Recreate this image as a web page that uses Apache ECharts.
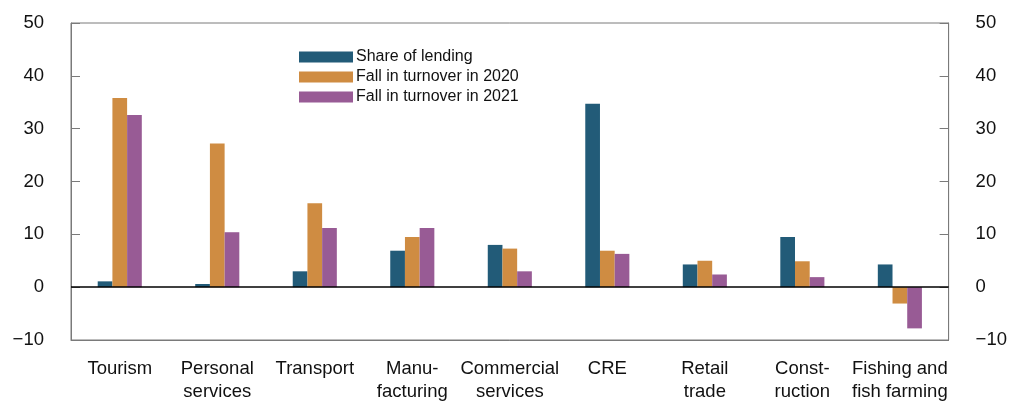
<!DOCTYPE html>
<html><head><meta charset="utf-8">
<script src="https://cdn.jsdelivr.net/npm/echarts@6/dist/echarts.min.js"></script>
<style>html,body{margin:0;padding:0;background:#fff}#c{width:1010px;height:403px}</style>
</head><body><div id="c"></div>
<script>
const categories = ['Tourism','Personal\nservices','Transport','Manu-\nfacturing','Commercial\nservices','CRE','Retail\ntrade','Const-\nruction','Fishing and\nfish farming'];
const shareOfLending = [1.1, 0.6, 3.0, 6.9, 8.0, 34.7, 4.3, 9.5, 4.3];
const fall2020 = [35.8, 27.2, 15.9, 9.5, 7.3, 6.9, 5.0, 4.9, -3.1];
const fall2021 = [32.6, 10.4, 11.2, 11.2, 3.0, 6.3, 2.4, 1.9, -7.8];
const yTicks = [-10, 0, 10, 20, 30, 40, 50];

const font = 'Liberation Sans, Arial, Helvetica, sans-serif';
const axisGray = '#7a7a7a';
const fmt = v => String(v).replace('-', '\u2212');
const yAxisBase = {
  type: 'value', min: yTicks[0], max: yTicks[yTicks.length-1], interval: 10,
  axisLine: {show: true, lineStyle: {color: axisGray, width: 1}},
  axisTick: {show: true, inside: true, length: 9, lineStyle: {color: axisGray}},
  splitLine: {show: false},
  axisLabel: {color: '#111', fontSize: 18.5, fontFamily: font, margin: 27, formatter: fmt}
};
const chart = echarts.init(document.getElementById('c'), null, {renderer: 'canvas'});
chart.setOption({
  animation: false,
  grid: {left: 71, right: 59, top: 23, bottom: 58, show: true, borderColor: axisGray, borderWidth: 1},
  legend: {
    left: 294, top: 44, orient: 'vertical', itemWidth: 54, itemHeight: 11, itemGap: 4,
    icon: 'rect', textStyle: {fontSize: 16, fontFamily: font, color: '#111', padding: [0,0,0,-2]},
    data: ['Share of lending', 'Fall in turnover in 2020', 'Fall in turnover in 2021']
  },
  xAxis: {
    type: 'category', data: categories,
    axisLine: {onZero: false, lineStyle: {color: axisGray}},
    axisTick: {alignWithLabel: true, inside: true, length: 10, lineStyle: {color: axisGray}},
    axisLabel: {color: '#111', fontSize: 18.5, fontFamily: font, margin: 17, lineHeight: 23, interval: 0}
  },
  yAxis: [
    Object.assign({}, yAxisBase, {position: 'left'}),
    Object.assign({}, yAxisBase, {position: 'right'})
  ],
  series: [
    {name: 'Share of lending', type: 'bar', data: shareOfLending, barWidth: 14.7, barGap: '0%',
     itemStyle: {color: '#225b78'},
     markLine: {silent: true, symbol: ['none','none'], label: {show: false},
       lineStyle: {color: '#000', type: 'solid', width: 1.5}, data: [{yAxis: 0}]}},
    {name: 'Fall in turnover in 2020', type: 'bar', data: fall2020, barWidth: 14.7, barGap: '0%',
     itemStyle: {color: '#cf8c42'}},
    {name: 'Fall in turnover in 2021', type: 'bar', data: fall2021, barWidth: 14.7, barGap: '0%',
     itemStyle: {color: '#985b95'}}
  ]
});
</script></body></html>
